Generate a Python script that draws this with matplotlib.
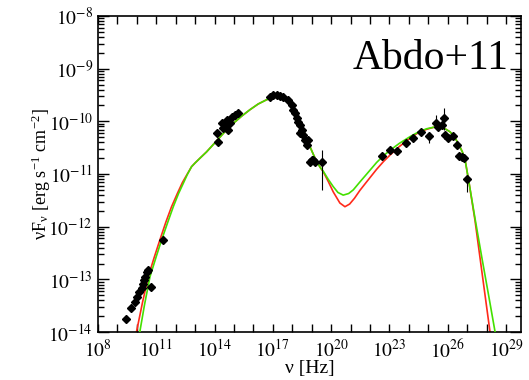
import numpy as np
import matplotlib
matplotlib.use('Agg')
import matplotlib.pyplot as plt
from matplotlib.ticker import FixedLocator, LogLocator, NullFormatter, FixedFormatter

plt.rcParams['font.family'] = ['Liberation Serif', 'DejaVu Serif']
plt.rcParams['mathtext.fontset'] = 'stix'

## datos (log10 nu [Hz], log10 nuFnu [erg s-1 cm-2])
radio_lognu = [9.43, 9.73, 9.90, 9.99, 10.13, 10.25, 10.33, 10.37, 10.42, 10.51, 10.59, 10.71, 11.36]
radio_logf = [-13.75, -13.55, -13.42, -13.33, -13.23, -13.17, -13.08, -13.01, -12.95, -12.85, -12.82, -13.14, -12.25]

opt_lognu = [14.11, 14.19, 14.37, 14.45, 14.54, 14.62, 14.71, 14.79, 14.88, 15.05, 15.22]
opt_logf = [-10.22, -10.39, -10.04, -10.13, -10.09, -9.97, -10.16, -10.04, -9.91, -9.88, -9.85]

xray_lognu = [16.85, 17.02, 17.20, 17.37, 17.54, 17.79, 17.97, 18.05, 18.14, 18.22, 18.31,
              18.40, 18.48, 18.40, 18.57, 18.65, 18.74, 18.82, 18.91, 19.00, 19.08, 19.17]
xray_logf = [-9.53, -9.50, -9.50, -9.52, -9.54, -9.59, -9.69, -9.78, -9.85, -9.94, -10.01,
             -10.07, -10.16, -10.23, -10.26, -10.35, -10.45, -10.35, -10.77, -10.73, -10.73, -10.77]

gamma_lognu = [22.60, 23.03, 23.40, 23.84, 24.23, 24.61, 25.51, 25.70, 25.86, 26.03, 26.25,
               26.46, 26.60, 26.72, 26.84]
gamma_logf = [-10.66, -10.54, -10.56, -10.41, -10.32, -10.20, -10.10, -10.07, -10.26, -10.32, -10.28,
              -10.45, -10.66, -10.67, -10.70]

# puntos con barra de error
err_lognu = [19.51, 25.04, 25.40, 25.82, 27.01]
err_logf = [-10.77, -10.27, -10.03, -9.94, -11.10]
err_lo = [-11.30, -10.42, -10.13, -10.16, -11.34]
err_hi = [-10.54, -10.20, -9.88, -9.75, -11.02]

# modelos
green_lognu = [10.10, 10.16, 10.40, 10.68, 11.00, 11.28, 11.60, 11.88, 12.15, 12.39, 12.60, 12.82,
               13.00, 13.25, 13.59, 14.11, 14.50, 14.96, 15.40, 15.82, 16.25, 16.68, 17.00, 17.20,
               17.40, 17.54, 17.70, 17.88, 18.05, 18.23, 18.40, 18.57, 18.74, 18.91, 19.10, 19.26,
               19.45, 19.60, 19.85, 20.11, 20.35, 20.62, 20.90, 21.14, 21.48, 21.83, 22.34, 22.70,
               23.03, 23.50, 24.06, 24.50, 24.92, 25.30, 25.60, 25.90, 26.12, 26.35, 26.54, 26.75,
               26.89, 27.10, 27.40, 27.75, 28.10, 28.43, 28.50]
green_logf = [-14.12, -13.99, -13.48, -12.95, -12.57, -12.25, -11.91, -11.62, -11.37, -11.18, -11.01, -10.86,
              -10.79, -10.70, -10.58, -10.37, -10.21, -10.04, -9.90, -9.78, -9.67, -9.59, -9.55, -9.54,
              -9.545, -9.56, -9.60, -9.66, -9.75, -9.85, -9.99, -10.16, -10.32, -10.48, -10.64, -10.77,
              -10.88, -10.95, -11.10, -11.24, -11.35, -11.40, -11.37, -11.30, -11.15, -11.00, -10.78, -10.65,
              -10.55, -10.42, -10.29, -10.20, -10.14, -10.11, -10.11, -10.15, -10.20, -10.30, -10.42, -10.58,
              -10.73, -11.18, -11.84, -12.58, -13.30, -13.99, -14.13]

red_lognu = [9.93, 9.99, 10.30, 10.59, 10.90, 11.19, 11.50, 11.79, 12.10, 12.35, 12.60, 12.82,
             13.00, 13.25, 13.59, 14.11, 14.50, 14.96, 15.40, 15.82, 16.25, 16.68, 17.00, 17.20,
             17.40, 17.54, 17.70, 17.88, 18.05, 18.23, 18.40, 18.57, 18.74, 18.91, 19.10, 19.26,
             19.45, 19.60, 19.85, 20.11, 20.45, 20.71, 20.95, 21.20, 21.48, 21.80, 22.34, 22.70,
             23.03, 23.50, 24.06, 24.50, 24.92, 25.30, 25.60, 25.90, 26.12, 26.35, 26.54, 26.75,
             26.89, 27.10, 27.40, 27.83, 28.17, 28.22]
red_logf = [-14.12, -13.99, -13.43, -12.95, -12.58, -12.25, -11.91, -11.62, -11.36, -11.16, -11.00, -10.86,
            -10.79, -10.70, -10.58, -10.37, -10.21, -10.04, -9.90, -9.78, -9.67, -9.59, -9.55, -9.54,
            -9.545, -9.56, -9.60, -9.66, -9.75, -9.85, -9.99, -10.16, -10.32, -10.48, -10.64, -10.77,
            -10.88, -10.96, -11.14, -11.34, -11.55, -11.62, -11.57, -11.46, -11.31, -11.16, -10.91, -10.76,
            -10.64, -10.48, -10.32, -10.21, -10.15, -10.11, -10.11, -10.15, -10.20, -10.30, -10.42, -10.58,
            -10.73, -11.18, -11.88, -13.06, -13.99, -14.13]

xtick_exp = list(range(8, 30))
xlabel_exp = [8, 11, 14, 17, 20, 23, 26, 29]
ytick_exp = [-14, -13, -12, -11, -10, -9, -8]


def p(v):
	return 10.0 ** np.array(v)


fig = plt.figure(figsize=(5.29, 3.8), dpi=100)
ax = fig.add_axes([0.185, 0.126, 0.8, 0.832])

ax.plot(p(red_lognu), p(red_logf), color='#ff2a1a', lw=1.2, zorder=2)
ax.plot(p(green_lognu), p(green_logf), color='#44e000', lw=1.2, zorder=3)

mk = dict(marker='D', ms=3.6, color='black', ls='none', zorder=4)
for xs, ys in [(radio_lognu, radio_logf), (opt_lognu, opt_logf), (xray_lognu, xray_logf), (gamma_lognu, gamma_logf)]:
	ax.plot(p(xs), p(ys), **mk)

yv = p(err_logf)
ax.errorbar(p(err_lognu), yv, yerr=[yv - p(err_lo), p(err_hi) - yv], fmt='D', ms=3.6,
			color='black', ecolor='black', elinewidth=0.8, capsize=0, zorder=4)

ax.set_xscale('log')
ax.set_yscale('log')
ax.set_xlim(1e8, 10 ** 29.77)
ax.set_ylim(1e-14, 1e-8)

ax.xaxis.set_major_locator(FixedLocator([10.0 ** e for e in xtick_exp]))
ax.xaxis.set_minor_locator(FixedLocator([]))
labs = ['$10^{%d}$' % e if e in xlabel_exp else '' for e in xtick_exp]
ax.xaxis.set_major_formatter(FixedFormatter(labs))
ax.yaxis.set_major_locator(FixedLocator([10.0 ** e for e in ytick_exp]))
ax.yaxis.set_major_formatter(FixedFormatter(['$10^{%d}$' % e for e in ytick_exp]))
ax.yaxis.set_minor_locator(LogLocator(base=10, subs=np.arange(2, 10), numticks=20))
ax.yaxis.set_minor_formatter(NullFormatter())

ax.tick_params(which='both', direction='in', top=True, right=True, labelsize=14, width=1)
ax.tick_params(axis='x', which='major', length=6, pad=5)
ax.tick_params(axis='y', which='major', length=8)
ax.tick_params(axis='y', which='minor', length=4)
for s in ax.spines.values():
	s.set_linewidth(1.2)

ax.set_xlabel('ν [Hz]', fontsize=14, labelpad=-1)
ax.set_ylabel('νF$_\\mathregular{ν}$ [erg s$^\\mathregular{-1}$ cm$^\\mathregular{-2}$]', fontsize=13, labelpad=-3)

ax.text(0.97, 0.865, 'Abdo+11', transform=ax.transAxes, ha='right', va='center', fontsize=30)

fig.savefig('out.png', dpi=100)
